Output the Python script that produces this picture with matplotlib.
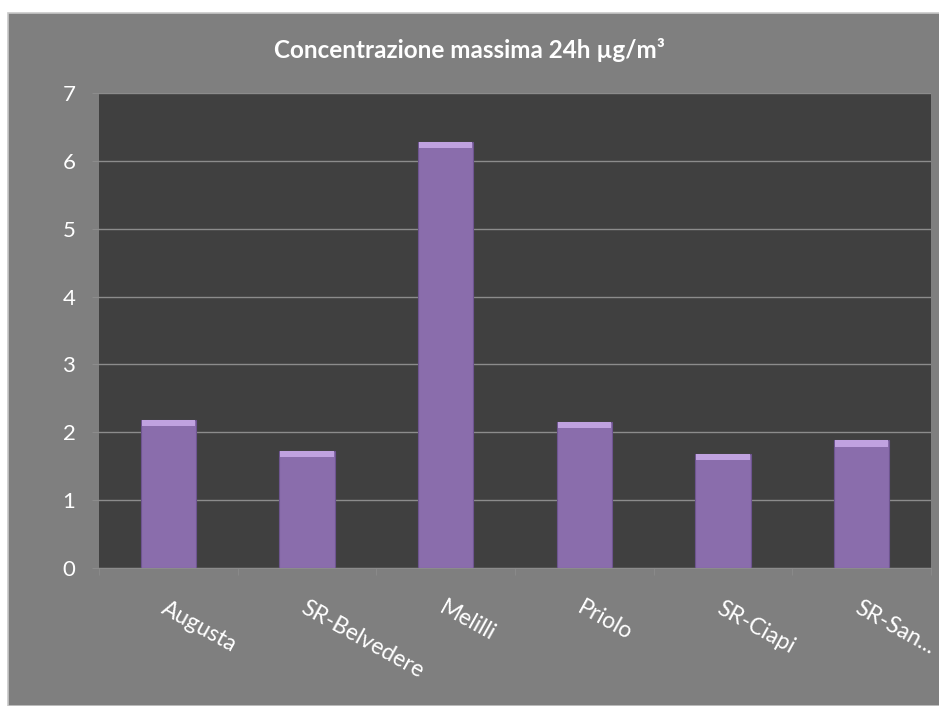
import numpy as np
import matplotlib.pyplot as plt
from matplotlib.patches import Rectangle

stations = ['Augusta', 'SR-Belvedere', 'Melilli', 'Priolo', 'SR-Ciapi', 'SR-San...']
max_24h = [2.18, 1.73, 6.28, 2.15, 1.68, 1.88]
y_ticks = [0, 1, 2, 3, 4, 5, 6, 7]

plt.rcParams['font.family'] = ['Lato', 'DejaVu Sans']

fig = plt.figure(figsize=(9.39, 7.06), dpi=100, facecolor='white')
# grey chart frame, slightly inset from the top-left corner
fig.patches.append(Rectangle((0.0085, 0), 1, 1 - 13 / 706, transform=fig.transFigure,
                             facecolor='#7f7f7f', edgecolor='#c8c8c8', linewidth=1.2, zorder=-1))

ax = fig.add_axes([99 / 939, 1 - 568 / 706, (931 - 99) / 939, (568 - 93) / 706])
ax.set_facecolor('#404040')

x = np.arange(len(stations))
w = 0.4
ax.bar(x, max_24h, width=w, color='#8a6dac', edgecolor='#6e5590', linewidth=0.8, zorder=3)
# light bevel along the top of each bar
bevel = 0.09
ax.bar(x, [bevel] * len(x), bottom=np.array(max_24h) - bevel, width=w * 0.96,
       color='#c0a2e0', linewidth=0, zorder=4)

ax.set_xlim(-0.5, len(stations) - 0.5)
ax.set_ylim(0, 7)
ax.set_yticks(y_ticks)
ax.set_yticklabels([str(v) for v in y_ticks], color='white', fontsize=16)
ax.yaxis.grid(True, color='#8c8c8c', linewidth=1.0, zorder=1)
ax.tick_params(axis='y', length=5, color='#8c8c8c', pad=12)

ax.set_xticks(x)
ax.set_xticklabels(stations, color='white', fontsize=16.5, rotation=-29,
                   ha='left', va='top', rotation_mode='anchor')
ax.tick_params(axis='x', length=0, pad=21)
ax.set_xticks(np.arange(len(stations) + 1) - 0.5, minor=True)
ax.tick_params(axis='x', which='minor', length=5, color='#8c8c8c')

for side in ['top', 'right', 'left']:
    ax.spines[side].set_visible(False)
ax.spines['bottom'].set_color('#8c8c8c')

fig.text(0.500, 1 - 50 / 706, 'Concentrazione massima 24h µg/m³', ha='center', va='center',
         color='white', fontsize=17.5, fontweight='bold')

plt.savefig('out.png', dpi=100, facecolor=fig.get_facecolor())
